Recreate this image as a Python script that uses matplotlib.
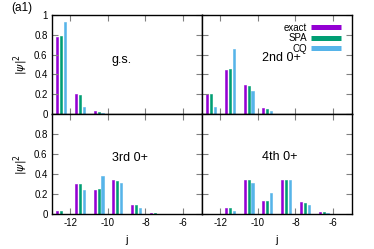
import numpy as np
import matplotlib
matplotlib.use("Agg")
import matplotlib.pyplot as plt
from matplotlib.lines import Line2D

plt.rcParams['font.family'] = ['Liberation Sans', 'DejaVu Sans']

# j values (bar group centres)
j = [-12.5, -11.5, -10.5, -9.5, -8.5, -7.5, -6.5, -5.5]

series = ["exact", "SPA", "CQ"]
colors = ["#9400d3", "#009e73", "#56b4e9"]

# |psi|^2 per panel, per method
gs_exact = [0.78, 0.20, 0.026, 0.003, 0.0, 0.0, 0.0, 0.0]
gs_spa   = [0.79, 0.195, 0.02, 0.002, 0.0, 0.0, 0.0, 0.0]
gs_cq    = [0.925, 0.073, 0.008, 0.001, 0.0, 0.0, 0.0, 0.0]

s2_exact = [0.20, 0.44, 0.29, 0.057, 0.005, 0.0, 0.0, 0.0]
s2_spa   = [0.20, 0.45, 0.285, 0.05, 0.004, 0.0, 0.0, 0.0]
s2_cq    = [0.075, 0.66, 0.235, 0.03, 0.002, 0.0, 0.0, 0.0]

s3_exact = [0.033, 0.30, 0.24, 0.337, 0.09, 0.01, 0.002, 0.0]
s3_spa   = [0.027, 0.30, 0.25, 0.33, 0.087, 0.008, 0.001, 0.0]
s3_cq    = [0.003, 0.237, 0.38, 0.313, 0.063, 0.004, 0.001, 0.0]

s4_exact = [0.002, 0.06, 0.34, 0.13, 0.34, 0.12, 0.02, 0.0]
s4_spa   = [0.002, 0.06, 0.34, 0.13, 0.34, 0.113, 0.017, 0.0]
s4_cq    = [0.001, 0.033, 0.313, 0.213, 0.34, 0.09, 0.01, 0.0]

panels = [
    ("g.s.", [gs_exact, gs_spa, gs_cq]),
    ("2nd 0+", [s2_exact, s2_spa, s2_cq]),
    ("3rd 0+", [s3_exact, s3_spa, s3_cq]),
    ("4th 0+", [s4_exact, s4_spa, s4_cq]),
]

fig = plt.figure(figsize=(3.74, 2.49), dpi=100)

W = 150 / 374
x0 = 51.7 / 374
boxes = [
    [x0, 1 - 114 / 249, W, 99 / 249],
    [x0 + W, 1 - 114 / 249, W, 99 / 249],
    [x0, 1 - 214 / 249, W, 100 / 249],
    [x0 + W, 1 - 214 / 249, W, 100 / 249],
]
text_pos = [(0.40, 0.545), (0.40, 0.566), (0.40, 0.563), (0.40, 0.573)]

jj = np.array(j)
offs = [-0.21, 0.0, 0.21]
for k, (name, vals) in enumerate(panels):
    ax = fig.add_axes(boxes[k])
    for s in range(3):
        ax.bar(jj + offs[s], vals[s], width=0.11, color=colors[s],
               edgecolor=colors[s], linewidth=0.4)
    ax.set_xlim(-13, -5)
    ax.set_ylim(0, 1)
    ax.set_xticks([-12, -10, -8, -6])
    ax.set_yticks([0, 0.2, 0.4, 0.6, 0.8, 1.0])
    ax.tick_params(direction='in', length=4, width=0.8, color='#808080',
                   top=True, right=True, labelsize=7, pad=3)
    for sp in ax.spines.values():
        sp.set_linewidth(1.0)
        sp.set_color('black')
    if k % 2 == 1:
        ax.set_yticklabels([])
    else:
        ax.set_ylabel(r'$|\psi|^2$', fontsize=8, labelpad=3)
        ax.set_yticklabels(['0', '0.2', '0.4', '0.6', '0.8', '1'])
    if k < 2:
        ax.set_xticklabels([])
    else:
        ax.set_xlabel('j', fontsize=8, labelpad=5)
        ax.set_xticklabels(['-12', '-10', '-8', '-6'])
    if k == 2:
        ax.set_yticks([0, 0.2, 0.4, 0.6, 0.8])
        ax.set_yticklabels(['0', '0.2', '0.4', '0.6', '0.8'])
    ax.text(text_pos[k][0], text_pos[k][1], name, transform=ax.transAxes,
            fontsize=9, ha='left', va='center')
    if k == 1:
        handles = [Line2D([], [], color=c, lw=3.6, solid_capstyle='butt')
                   for c in colors]
        ax.legend(handles, series, loc='upper right',
                  bbox_to_anchor=(0.95, 0.95), fontsize=7,
                  frameon=False, handlelength=3.1, handletextpad=0.4,
                  markerfirst=False, labelspacing=0.05,
                  borderaxespad=0.0, borderpad=0.3)

fig.text(22 / 374, 1 - 8 / 249, '(a1)', fontsize=8.5, ha='center', va='center')

fig.savefig('out.png', dpi=100)
